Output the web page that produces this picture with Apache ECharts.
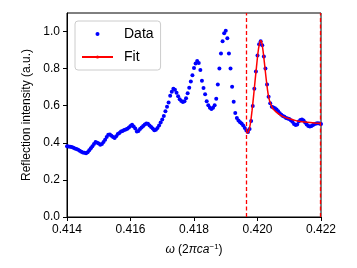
<!DOCTYPE html>
<html>
<head>
<meta charset="utf-8">
<script src="https://cdn.jsdelivr.net/npm/echarts@6/dist/echarts.min.js"></script>
<style>
html,body{margin:0;padding:0;background:#fff;}
#chart{width:357px;height:268px;}
</style>
</head>
<body>
<div id="chart"></div>
<script>
const omega = [
0.41400,0.41405,0.41410,0.41415,0.41420,0.41425,0.41430,0.41435,0.41440,0.41445,
0.41450,0.41455,0.41460,0.41465,0.41470,0.41475,0.41480,0.41485,0.41490,0.41495,
0.41500,0.41505,0.41510,0.41515,0.41520,0.41525,0.41530,0.41535,0.41540,0.41545,
0.41550,0.41555,0.41560,0.41565,0.41570,0.41575,0.41580,0.41585,0.41590,0.41595,
0.41600,0.41605,0.41610,0.41615,0.41620,0.41625,0.41630,0.41635,0.41640,0.41645,
0.41650,0.41655,0.41660,0.41665,0.41670,0.41675,0.41680,0.41685,0.41690,0.41695,
0.41700,0.41705,0.41710,0.41715,0.41720,0.41725,0.41730,0.41735,0.41740,0.41745,
0.41750,0.41755,0.41760,0.41765,0.41770,0.41775,0.41780,0.41785,0.41790,0.41795,
0.41800,0.41805,0.41810,0.41815,0.41820,0.41825,0.41830,0.41835,0.41840,0.41845,
0.41850,0.41855,0.41860,0.41865,0.41870,0.41875,0.41880,0.41885,0.41890,0.41895,
0.41900,0.41905,0.41910,0.41915,0.41920,0.41925,0.41930,0.41935,0.41940,0.41945,
0.41950,0.41955,0.41960,0.41965,0.41970,0.41975,0.41980,0.41985,0.41990,0.41995,
0.42000,0.42005,0.42010,0.42015,0.42020,0.42025,0.42030,0.42035,0.42040,0.42045,
0.42050,0.42055,0.42060,0.42065,0.42070,0.42075,0.42080,0.42085,0.42090,0.42095,
0.42100,0.42105,0.42110,0.42115,0.42120,0.42125,0.42130,0.42135,0.42140,0.42145,
0.42150,0.42155,0.42160,0.42165,0.42170,0.42175,0.42180,0.42185,0.42190,0.42195,
0.42200
];
const intensity = [
0.382,0.380,0.379,0.377,0.374,0.370,0.367,0.362,0.357,0.352,
0.348,0.346,0.344,0.349,0.360,0.371,0.382,0.393,0.404,0.401,
0.396,0.389,0.393,0.405,0.417,0.431,0.443,0.445,0.438,0.431,
0.426,0.436,0.447,0.453,0.461,0.464,0.469,0.472,0.476,0.483,
0.491,0.497,0.488,0.477,0.461,0.464,0.474,0.483,0.491,0.499,
0.504,0.503,0.493,0.485,0.477,0.468,0.470,0.480,0.493,0.510,
0.526,0.545,0.570,0.594,0.618,0.654,0.676,0.692,0.686,0.670,
0.651,0.635,0.625,0.620,0.624,0.640,0.667,0.697,0.730,0.765,
0.803,0.828,0.841,0.830,0.792,0.735,0.695,0.662,0.624,0.602,
0.589,0.583,0.589,0.602,0.638,0.714,0.801,0.882,0.947,0.991,
1.004,0.964,0.882,0.801,0.702,0.621,0.561,0.534,0.521,0.511,
0.504,0.493,0.480,0.466,0.458,0.474,0.518,0.599,0.692,0.784,
0.871,0.931,0.947,0.926,0.866,0.801,0.714,0.648,0.613,0.594,
0.590,0.586,0.580,0.570,0.560,0.551,0.545,0.540,0.534,0.531,
0.528,0.522,0.514,0.502,0.496,0.499,0.515,0.523,0.526,0.521,
0.510,0.499,0.491,0.488,0.491,0.496,0.502,0.504,0.505,0.504,
0.502
];
const fitOmega = [
0.419638,0.419685,0.419732,0.419780,0.419827,0.419874,0.419921,0.419969,
0.420016,0.420063,0.420094,0.420126,0.420173,0.420220,0.420268,0.420315,
0.420362,0.420425,0.420488,0.420583,0.420709,0.420866,0.421024,0.421181,
0.421339,0.421496,0.421654,0.421811,0.422000
];
const fitIntensity = [
0.455,0.453,0.469,0.507,0.572,0.648,0.730,0.811,
0.887,0.936,0.951,0.947,0.898,0.828,0.752,0.686,
0.638,0.605,0.583,0.567,0.551,0.537,0.529,0.521,
0.515,0.512,0.510,0.507,0.504
];
const fitWindow = [0.41964, 0.42199];
const xTicks = [0.414, 0.416, 0.418, 0.420, 0.422];
const yTicks = [0.0, 0.2, 0.4, 0.6, 0.8, 1.0];
const seriesNames = ['Data', 'Fit'];

const FONT = 'Liberation Sans, Arial, sans-serif';
const chart = echarts.init(document.getElementById('chart'), null, {renderer: 'canvas'});
chart.setOption({
  animation: false,
  backgroundColor: '#ffffff',
  grid: {left: 67, right: 36, top: 13, bottom: 51, show: true, borderColor: '#000', borderWidth: 1, backgroundColor: 'transparent'},
  legend: {
    data: seriesNames,
    orient: 'vertical',
    left: 75, top: 21,
    itemWidth: 31, itemHeight: 4,
    itemGap: 9,
    padding: [6, 7, 6, 6],
    backgroundColor: 'rgba(255,255,255,0.8)',
    borderColor: '#cccccc', borderWidth: 1, borderRadius: 3,
    textStyle: {fontFamily: FONT, fontSize: 14, color: '#000', padding: [0, 0, 0, 6]}
  },
  xAxis: {
    type: 'value', min: 0.414, max: 0.422, interval: 0.002,
    name: '{i|ω} (2{i|πca}{s|−1})',
    nameLocation: 'middle', nameGap: 26,
    nameTextStyle: {fontFamily: FONT, fontSize: 12, color: '#000',
      rich: {i: {fontFamily: FONT, fontSize: 12, fontStyle: 'italic', color: '#000'},
             s: {fontFamily: FONT, fontSize: 8, color: '#000', verticalAlign: 'bottom', padding: [0, 0, 6, 0]}}},
    axisLine: {show: true, onZero: false, lineStyle: {color: '#000', width: 1}},
    axisTick: {show: true, length: 4, inside: false, customValues: xTicks, lineStyle: {color: '#000'}},
    axisLabel: {customValues: xTicks, fontFamily: FONT, fontSize: 12, color: '#000', margin: 7,
      formatter: v => v.toFixed(3)},
    splitLine: {show: false}
  },
  yAxis: {
    type: 'value', min: 0, max: 1.1, interval: 0.2,
    name: 'Reflection intensity (a.u.)',
    nameLocation: 'middle', nameGap: 34,
    nameTextStyle: {fontFamily: FONT, fontSize: 12, color: '#000'},
    axisLine: {show: true, lineStyle: {color: '#000', width: 1}},
    axisTick: {show: true, length: 4, customValues: yTicks, lineStyle: {color: '#000'}},
    axisLabel: {customValues: yTicks, fontFamily: FONT, fontSize: 12, color: '#000', margin: 7,
      formatter: v => v.toFixed(1)},
    splitLine: {show: false}
  },
  series: [
    {
      name: 'Data', type: 'scatter',
      data: omega.map((x, i) => [x, intensity[i]]),
      symbol: 'circle', symbolSize: 4,
      itemStyle: {color: '#0000ff', opacity: 1},
      z: 2
    },
    {
      name: 'Fit', type: 'line',
      data: fitOmega.map((x, i) => [x, fitIntensity[i]]),
      symbol: 'none', smooth: 0.2,
      lineStyle: {color: '#ff0000', width: 1.5},
      itemStyle: {color: '#ff0000'},
      z: 3,
      markLine: {
        silent: true, symbol: ['none', 'none'], precision: 6,
        label: {show: false},
        lineStyle: {color: '#ff0000', type: [4, 2.5], width: 1.3},
        data: fitWindow.map(v => ({xAxis: v}))
      }
    }
  ]
});
</script>
</body>
</html>
